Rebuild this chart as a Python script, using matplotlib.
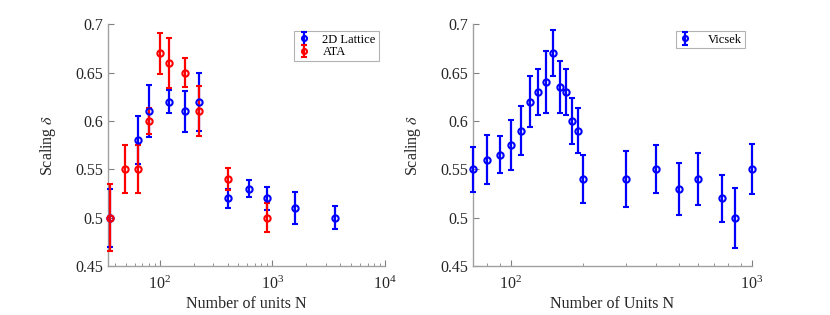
import matplotlib
matplotlib.use("Agg")
import matplotlib.pyplot as plt
import numpy as np

# left panel: 2D lattice and all-to-all
lattice_N = [36, 64, 81, 121, 169, 225, 400, 625, 900, 1600, 3600]
lattice_delta = [0.50, 0.58, 0.61, 0.62, 0.61, 0.62, 0.52, 0.53, 0.52, 0.51, 0.50]
lattice_err = [0.030, 0.025, 0.027, 0.012, 0.021, 0.030, 0.010, 0.009, 0.012, 0.017, 0.012]

ata_N = [36, 49, 64, 81, 100, 121, 169, 225, 400, 900]
ata_delta = [0.50, 0.55, 0.55, 0.60, 0.67, 0.66, 0.65, 0.61, 0.54, 0.50]
ata_err = [0.035, 0.025, 0.025, 0.013, 0.021, 0.026, 0.015, 0.026, 0.011, 0.015]

# right panel: Vicsek
vicsek_N = [70, 80, 90, 100, 110, 120, 130, 140, 150, 160, 170, 180, 190, 200,
            300, 400, 500, 600, 750, 850, 1000]
vicsek_delta = [0.55, 0.56, 0.565, 0.575, 0.59, 0.62, 0.63, 0.64, 0.67, 0.635, 0.63,
                0.60, 0.59, 0.54, 0.54, 0.55, 0.53, 0.54, 0.52, 0.50, 0.55]
vicsek_err = [0.0235, 0.025, 0.019, 0.026, 0.025, 0.026, 0.024, 0.032, 0.024, 0.027, 0.024,
              0.024, 0.023, 0.025, 0.029, 0.025, 0.027, 0.027, 0.0245, 0.031, 0.026]

plt.rcParams['font.family'] = ['Liberation Serif', 'DejaVu Serif']
plt.rcParams['mathtext.fontset'] = 'stix'

fig = plt.figure(figsize=(8.3, 3.15), dpi=100)
ax1 = fig.add_axes([0.1305, 0.1556, 0.3334, 0.7673])
ax2 = fig.add_axes([0.5703, 0.1556, 0.3353, 0.7673])

ebkw = dict(fmt='o', ms=4.5, mfc='none', mew=1.5, elinewidth=1.6, capsize=2.5,
            capthick=1.4, clip_on=False, zorder=3)


def style_axes(ax, xlabel):
    ax.set_xscale('log')
    ax.set_ylim(0.45, 0.7)
    ax.set_yticks([0.45, 0.5, 0.55, 0.6, 0.65, 0.7])
    ax.set_yticklabels(['0.45', '0.5', '0.55', '0.6', '0.65', '0.7'])
    for s in ['top', 'right']:
        ax.spines[s].set_visible(False)
    for s in ['left', 'bottom']:
        ax.spines[s].set_color('#a0a0a0')
        ax.spines[s].set_linewidth(1.0)
    ax.tick_params(which='both', direction='in', colors='#808080', labelcolor='#262626',
                   labelsize=11.5)
    ax.tick_params(axis='x', which='major', pad=7)
    ax.tick_params(which='major', length=4)
    ax.tick_params(which='minor', length=2.5)
    ax.set_xlabel(xlabel, fontsize=11.5, color='#262626', labelpad=2)
    ax.set_ylabel(r'Scaling $\delta$', fontsize=11.5, color='#262626', labelpad=13)


ax1.errorbar(lattice_N, lattice_delta, yerr=lattice_err, color='#0000ff', label='2D Lattice', **ebkw)
ax1.errorbar(ata_N, ata_delta, yerr=ata_err, color='#ff0000', label='ATA', **ebkw)
style_axes(ax1, 'Number of units N')
ax1.set_xlim(35, 1e4)
ax1.set_xticks([1e2, 1e3, 1e4])
leg1 = ax1.legend(loc='upper right', fontsize=9, frameon=True, fancybox=False,
                  edgecolor='#a0a0a0', borderpad=0.25, handlelength=1.0, handletextpad=1.0,
                  labelspacing=0.05, borderaxespad=0.5, markerscale=0.8)
leg1.get_frame().set_linewidth(0.8)

ax2.errorbar(vicsek_N, vicsek_delta, yerr=vicsek_err, color='#0000ff', label='Vicsek', **ebkw)
style_axes(ax2, 'Number of Units N')
ax2.set_xlim(70, 1000)
ax2.set_xticks([1e2, 1e3])
leg2 = ax2.legend(loc='upper right', fontsize=9, frameon=True, fancybox=False,
                  edgecolor='#a0a0a0', borderpad=0.2, handlelength=1.0, handletextpad=1.4,
                  borderaxespad=0.55, markerscale=0.8)
leg2.get_frame().set_linewidth(0.8)

fig.savefig('out.png', dpi=100)
